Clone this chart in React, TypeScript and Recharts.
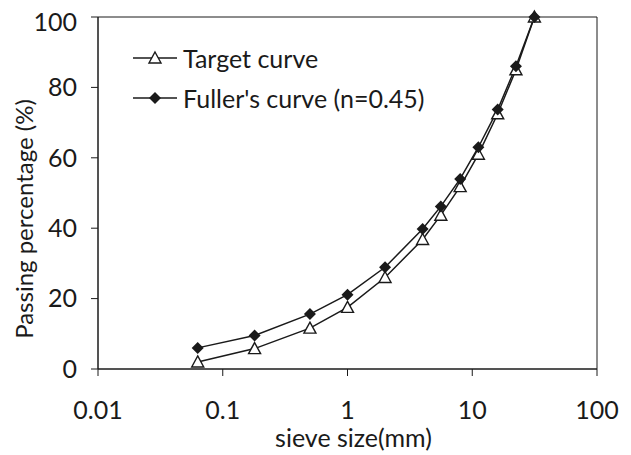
import React from 'react';
import {
  LineChart,
  Line,
  XAxis,
  YAxis,
  ReferenceArea,
} from 'recharts';

// sieve sizes (mm) and passing percentages
const sieveSizes = [0.063, 0.18, 0.5, 1, 2, 4, 5.6, 8, 11.2, 16, 22.4, 31.5];
const targetCurve = [2, 5.8, 11.6, 17.5, 26, 36.8, 43.7, 51.8, 61, 72.5, 85, 100];
const fullerCurve = [6, 9.5, 15.6, 21.1, 28.9, 39.8, 46.2, 54, 63, 73.7, 86, 100];

const xTicks = [0.01, 0.1, 1, 10, 100];
const yTicks = [0, 20, 40, 60, 80, 100];

const data = sieveSizes.map((size, i) => ({
  size,
  target: targetCurve[i],
  fuller: fullerCurve[i],
}));

const FONT = 'Lato, "Open Sans", sans-serif';
const FS = 25;
const INK = '#1a1a1a';

const TriangleDot = (props: any) => {
  const { cx, cy, index } = props;
  if (cx == null || cy == null) return null;
  return (
    <path
      key={`t-${index}`}
      d={`M${cx},${cy - 6} L${cx + 6},${cy + 5} L${cx - 6},${cy + 5} Z`}
      fill="#fff"
      stroke={INK}
      strokeWidth={1.4}
    />
  );
};

const DiamondDot = (props: any) => {
  const { cx, cy, index } = props;
  if (cx == null || cy == null) return null;
  return (
    <path
      key={`d-${index}`}
      d={`M${cx},${cy - 6} L${cx + 6},${cy} L${cx},${cy + 6} L${cx - 6},${cy} Z`}
      fill={INK}
    />
  );
};

// rotated y axis title
const YTitle = () => {
  const x = 25;
  const y = 211;
  return (
    <text
      x={x}
      y={y}
      transform={`rotate(-90, ${x}, ${y})`}
      textAnchor="middle"
      fill={INK}
      fontSize={24}
      fontFamily={FONT}
    >
      Passing percentage (%)
    </text>
  );
};

const LegendBox = () => (
  <div
    style={{
      position: 'absolute',
      left: 125,
      top: 30,
      fontFamily: FONT,
      fontSize: FS,
      color: INK,
      lineHeight: 1,
    }}
  >
    <div style={{ display: 'flex', alignItems: 'center', height: 40 }}>
      <svg width={50} height={20}>
        <line x1={0} y1={10} x2={44} y2={10} stroke={INK} strokeWidth={1.4} />
        <path d="M22,4 L28,15 L16,15 Z" fill="#fff" stroke={INK} strokeWidth={1.4} />
      </svg>
      <span>Target curve</span>
    </div>
    <div style={{ display: 'flex', alignItems: 'center', height: 40 }}>
      <svg width={50} height={20}>
        <line x1={0} y1={10} x2={44} y2={10} stroke={INK} strokeWidth={1.4} />
        <path d="M22,4 L28,10 L22,16 L16,10 Z" fill={INK} />
      </svg>
      <span>Fuller's curve (n=0.45)</span>
    </div>
  </div>
);

const App: React.FC = () => {
  return (
    <div style={{ position: 'relative', width: 615, height: 445 }}>
      <LineChart
        width={615}
        height={445}
        data={data}
        margin={{ top: 9, right: 26, left: 10, bottom: 0 }}
      >
        <XAxis
          dataKey="size"
          type="number"
          scale="log"
          domain={[0.01, 100]}
          ticks={xTicks}
          allowDataOverflow
          height={84}
          stroke={INK}
          tickSize={7}
          tickMargin={25}
          tick={{ fill: INK, fontSize: FS, fontFamily: FONT }}
          label={{
            value: 'sieve size(mm)',
            position: 'insideBottom',
            offset: 6,
            dx: 6,
            style: { fill: INK, fontSize: FS, fontFamily: FONT },
          }}
        />
        <YAxis
          type="number"
          domain={[0, 100]}
          ticks={yTicks}
          width={80}
          stroke={INK}
          tickSize={7}
          tickMargin={14}
          tick={{ fill: INK, fontSize: FS, fontFamily: FONT }}
          label={<YTitle />}
        />
        <ReferenceArea
          x1={0.01}
          x2={100}
          y1={0}
          y2={100}
          fill="none"
          stroke={INK}
          strokeWidth={1}
          fillOpacity={0}
        />
        <Line
          type="linear"
          dataKey="target"
          stroke={INK}
          strokeWidth={1.5}
          dot={TriangleDot}
          isAnimationActive={false}
        />
        <Line
          type="linear"
          dataKey="fuller"
          stroke={INK}
          strokeWidth={1.5}
          dot={DiamondDot}
          isAnimationActive={false}
        />
      </LineChart>
      <LegendBox />
    </div>
  );
};

export default App;
